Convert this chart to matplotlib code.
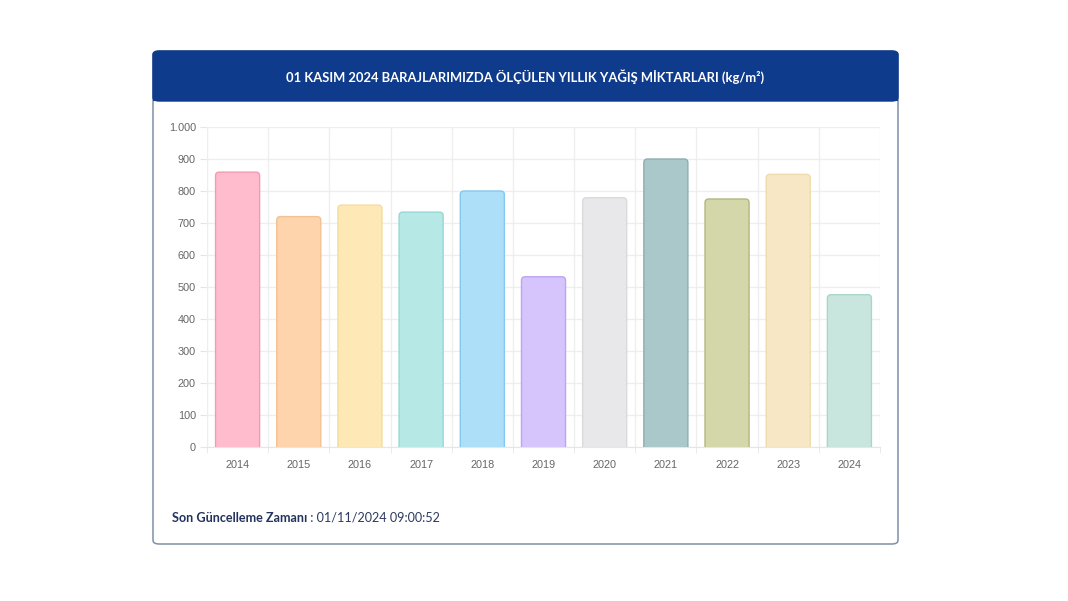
import matplotlib
matplotlib.use("Agg")
import matplotlib.pyplot as plt
from matplotlib.patches import FancyBboxPatch, Rectangle
from matplotlib.ticker import FuncFormatter

years = ["2014", "2015", "2016", "2017", "2018", "2019", "2020", "2021", "2022", "2023", "2024"]
rainfall = [859, 720, 756, 734, 800, 532, 779, 900, 775, 852, 476]
fill_colors = ["#ffbccd", "#fdd4ab", "#fee8b6", "#b6e9e5", "#ade0f8", "#d6c4fc", "#e8e8ea",
               "#aac7ca", "#d4d7aa", "#f7e7c4", "#c9e6de"]
edge_colors = ["#f59ab3", "#f3c193", "#f5dc9c", "#94d9d4", "#84c8ee", "#bfa3f3", "#dadadd",
               "#8eadb1", "#b3b77e", "#eedcae", "#a9d6c9"]

title = "01 KASIM 2024 BARAJLARIMIZDA ÖLÇÜLEN YILLIK YAĞIŞ MİKTARLARI (kg/m²)"
footer_bold = "Son Güncelleme Zamanı"
footer_value = " : 01/11/2024 09:00:52"

W, H = 1068, 601
fig = plt.figure(figsize=(W / 100, H / 100), dpi=100)
fig.patch.set_facecolor("white")


def fx(px):
    return px / W


def fy(py):
    return 1 - py / H


# card
card = FancyBboxPatch((fx(153), fy(544)), fx(898) - fx(153), fy(51) - fy(544),
                      boxstyle="round,pad=0,rounding_size=0.006",
                      transform=fig.transFigure, facecolor="white",
                      edgecolor="#7f90aa", linewidth=1.1, zorder=-2)
fig.patches.append(card)
header = FancyBboxPatch((fx(153), fy(101)), fx(898) - fx(153), fy(51) - fy(101),
                        boxstyle="round,pad=0,rounding_size=0.006",
                        transform=fig.transFigure, facecolor="#0f3b8c",
                        edgecolor="#0f3b8c", linewidth=1, zorder=-1)
fig.patches.append(header)
fig.patches.append(Rectangle((fx(153), fy(101)), fx(898) - fx(153), fy(85) - fy(101),
                             transform=fig.transFigure, facecolor="#0f3b8c",
                             edgecolor="none", zorder=-1))

fig.text(fx(525), fy(77), title, color="white", fontsize=9.4, fontweight="bold",
         ha="center", va="center", family="Lato")

t1 = fig.text(fx(172), fy(518), footer_bold, color="#23335c", fontsize=9.1,
              fontweight="bold", ha="left", va="center", family="Lato")
fig.canvas.draw()
bb = t1.get_window_extent()
fig.text(bb.x1 / W, fy(518), footer_value, color="#2c3a60", fontsize=9.1,
         ha="left", va="center", family="Lato")

# chart
ax = fig.add_axes([fx(207), fy(447), fx(880) - fx(207), fy(127) - fy(447)])
ax.set_zorder(2)
x = list(range(len(years)))
bars = ax.bar(x, rainfall, width=0.72, color=fill_colors, edgecolor=edge_colors,
              linewidth=1.0, zorder=3)

# rounded top corners, like the web chart (bottom part is clipped at 0)
for b, fc, ec in zip(bars, fill_colors, edge_colors):
    b.set_visible(False)
    r = FancyBboxPatch((b.get_x(), -30), b.get_width(), b.get_height() + 30,
                       boxstyle="round,pad=0,rounding_size=0.06",
                       mutation_aspect=190, facecolor=fc, edgecolor=ec,
                       linewidth=1.0, zorder=3)
    ax.add_patch(r)

ax.set_xlim(-0.5, len(years) - 0.5)
ax.set_ylim(0, 1000)
ax.set_yticks(range(0, 1001, 100))
ax.yaxis.set_major_formatter(FuncFormatter(lambda v, p: f"{int(v):,}".replace(",", ".")))
ax.set_xticks(x)
ax.set_xticklabels(years)
ax.set_xticks([i - 0.5 for i in range(len(years) + 1)], minor=True)

ax.grid(True, axis="y", color="#eeeeee", linewidth=0.9, zorder=0)
ax.grid(True, axis="x", which="minor", color="#eeeeee", linewidth=0.9, zorder=0)
ax.tick_params(axis="x", which="major", length=0, pad=9, labelsize=7.8, labelcolor="#666666")
ax.tick_params(axis="x", which="minor", length=4, color="#e6e6e6")
ax.tick_params(axis="y", length=5, color="#e6e6e6", pad=3, labelsize=7.8, labelcolor="#666666")
for lab in ax.get_xticklabels() + ax.get_yticklabels():
    lab.set_family("Liberation Sans")
for s in ["top", "right"]:
    ax.spines[s].set_visible(False)
ax.spines["left"].set_color("#eeeeee")
ax.spines["bottom"].set_color("#e6e6e6")
ax.set_facecolor("white")

fig.savefig("out.png", dpi=100)
